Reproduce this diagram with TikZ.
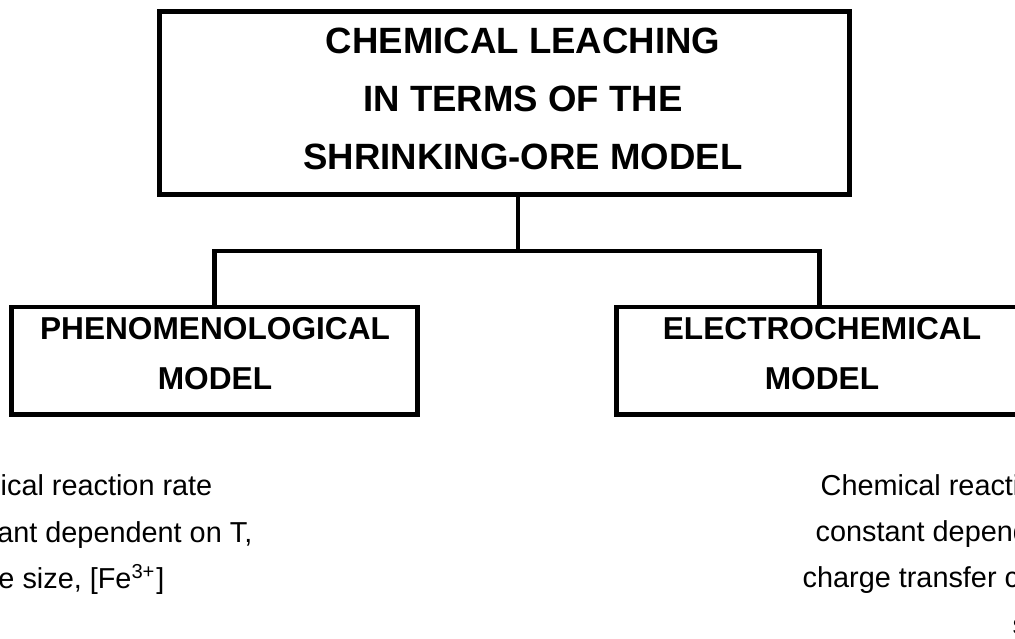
\documentclass[tikz,border=0pt]{standalone}
\usepackage{fontspec}
\setmainfont{Liberation Sans}
\usetikzlibrary{positioning}
\tikzset{
	modelbox/.style={draw, line width=1.4pt, minimum width=4.05cm, minimum height=1.07cm, inner sep=0pt},
	titletext/.style={font=\fontsize{10.4}{16.5}\selectfont\bfseries, align=center, inner sep=0pt},
	boxtext/.style={font=\fontsize{9.0}{14.2}\selectfont\bfseries, align=center, inner sep=0pt},
	note/.style={font=\fontsize{8.2}{13}\selectfont, inner sep=0pt},
	link/.style={line width=1.4pt}
}
\begin{document}
\begin{tikzpicture}[x=0.01cm, y=-0.01cm]
		%% Page as in the scan, everything in pixels
		\useasboundingbox (0,0) rectangle (1015,638);
		\clip (0,0) rectangle (1015,638);

		%% Main box
		\node[modelbox, minimum width=6.89cm, minimum height=1.82cm] (main) at (504.5,103) {};
		\node[titletext] (title) at (523,99) {CHEMICAL LEACHING\\IN TERMS OF THE\\SHRINKING-ORE MODEL};

		%% The two models
		\node[modelbox] (pheno) at (214.5,360.5) {};
		\node[boxtext] (phenotext) at (215,353.5) {PHENOMENOLOGICAL\\MODEL};
		\node[modelbox] (electro) at (819.5,360.5) {};
		\node[boxtext] (electrotext) at (822,354) {ELECTROCHEMICAL\\MODEL};

		% Tree lines
		\coordinate (fork) at (518,251);
		\draw[link] (main.south -| fork) -- (fork);
		\draw[link] (pheno.north) |- (fork) -| (electro.north);

		% Notes under the boxes (cut by the page edge)
		\node[note, anchor=base east] (phenoA) at (213,495) {nical reaction rate};
		\node[note, anchor=base east] (phenoB) at (253,542) {ant dependent on T,};
		\node[note, anchor=base east] (phenoC) at (165,588) {e size, [Fe\textsuperscript{3+}]};
		\node[note, anchor=base west] (electroA) at (820,495) {Chemical reacti};
		\node[note, anchor=base west] (electroB) at (815,541) {constant depend};
		\node[note, anchor=base west] (electroC) at (802,587) {charge transfer c};
		\node[note, anchor=base west] (electroD) at (1012,634) {s};
	\end{tikzpicture}
\end{document}
